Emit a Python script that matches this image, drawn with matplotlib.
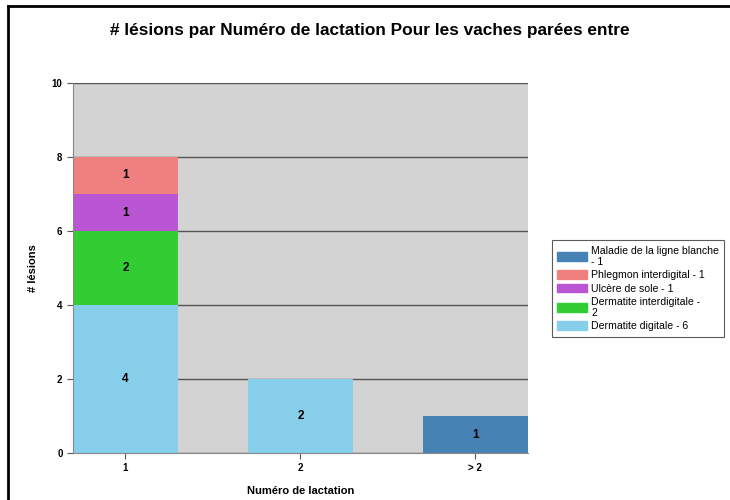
import numpy as np
import matplotlib
matplotlib.use("Agg")
from matplotlib import pyplot as plt
from matplotlib.lines import Line2D
from matplotlib.patches import Patch

plt.rcParams['font.family'] = ['Liberation Sans', 'DejaVu Sans']

# donnees
categories = ['1', '2', '> 2']
digitale = [4, 2, 0]
interdigitale = [2, 0, 0]
ulcere = [1, 0, 0]
phlegmon = [1, 0, 0]
maladie = [0, 0, 1]

series = [digitale, interdigitale, ulcere, phlegmon, maladie]
colors = ['#87CEEB', '#32CD32', '#BA55D3', '#F08080', '#4682B4']
legend_labels = ['Dermatite digitale - 6', 'Dermatite interdigitale -\n2',
                 'Ulcère de sole - 1', 'Phlegmon interdigital - 1',
                 'Maladie de la ligne blanche\n- 1']

fig = plt.figure(figsize=(7.3, 5), dpi=100)
ax = fig.add_axes([0.1, 0.094, 0.623, 0.74])
ax.set_facecolor('#D3D3D3')

x = np.arange(len(categories))
bottom = np.zeros(len(categories))
for vals, col in zip(series, colors):
    vals = np.array(vals)
    ax.bar(x, vals, width=0.6, bottom=bottom, color=col, zorder=2)
    for xi, v, b in zip(x, vals, bottom):
        if v > 0:
            ax.text(xi, b + v / 2, str(v), ha='center', va='center',
                    fontsize=8.5, fontweight='bold', zorder=3)
    bottom += vals

ax.set_xlim(-0.3, 2.3)
ax.set_ylim(0, 10)
ax.set_yticks([0, 2, 4, 6, 8, 10])
ax.set_xticks(x)
ax.set_xticklabels(categories)
for lab in ax.get_xticklabels() + ax.get_yticklabels():
    lab.set_fontweight('bold')
    lab.set_fontsize(7)
ax.tick_params(axis='both', colors='#555555', labelcolor='black', length=4, width=0.8)
ax.yaxis.grid(True, color='#555555', linewidth=1)
ax.set_axisbelow(True)
for s in ['top', 'right']:
    ax.spines[s].set_visible(False)
for s in ['left', 'bottom']:
    ax.spines[s].set_color('#888888')

ax.set_xlabel('Numéro de lactation', fontsize=8, fontweight='bold', labelpad=9)
ax.set_ylabel('# lésions', fontsize=8, fontweight='bold', labelpad=10)

fig.text(0.507, 0.94, '# lésions par Numéro de lactation Pour les vaches parées entre',
         ha='center', va='center', fontsize=12.4, fontweight='bold')

handles = [Patch(color=c) for c in colors][::-1]
leg = fig.legend(handles, legend_labels[::-1], loc='upper left',
                 bbox_to_anchor=(0.749, 0.53), fontsize=7.6, frameon=True,
                 fancybox=False, edgecolor='#333333', handlelength=2.8,
                 handleheight=0.9, labelspacing=0.3, borderpad=0.5,
                 handletextpad=0.4)
leg.get_frame().set_linewidth(0.8)

# cadre
fig.add_artist(Line2D([0.011, 1.0], [0.988, 0.988], color='black', linewidth=2))
fig.add_artist(Line2D([0.011, 0.011], [0.0, 0.988], color='black', linewidth=2))

fig.savefig('out.png', dpi=100)
